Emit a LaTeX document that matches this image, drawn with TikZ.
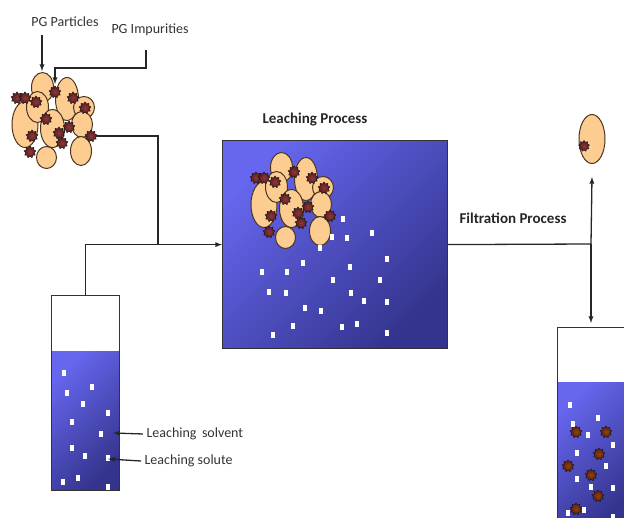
\documentclass[tikz,border=0pt]{standalone}
\usepackage{fontspec}
\setmainfont{Carlito}
\usepackage{tikz}
\usetikzlibrary{positioning,arrows,shapes.geometric}

\definecolor{pgfill}{HTML}{FDCC90}
\definecolor{pgedge}{HTML}{4A3520}
\definecolor{impfill}{HTML}{5A1A22}
\definecolor{impcore}{HTML}{8A3A34}
\definecolor{liqlight}{HTML}{6666EE}
\definecolor{liqdark}{HTML}{34348E}

\tikzset{
  pics/pgcluster/.style={code={
    \foreach \cx/\cy/\rx/\ry in {28.5/15.5/11/15, 53/27/11.5/21.5, 11/52.5/13/23,
        23.5/35/11/15.5, 38.5/56.5/12/19, 70/35.5/10.5/11, 68/52.5/10.5/13,
        67/79/10.5/14.5, 32.5/85.5/10/11}
      \draw[particle] (\cx,\cy) ellipse [x radius=\rx pt, y radius=\ry pt];
    \foreach \ix/\iy [count=\k] in {3/26, 11/26, 22/30, 41/20, 59/26, 71/36, 77/64,
        32/47, 45/61, 48/71, 55/55, 18/64, 16/80}
      \node[impurity] (-imp\k) at (\ix,\iy) {};
  }}
}

\begin{document}
\begin{tikzpicture}[x=1pt,y=-1pt,
  line/.style={draw=black!85, line width=1.3pt},
  flow/.style={line, -latex},
  particle/.style={draw=pgedge, fill=pgfill, line width=1pt},
  impurity/.style={star, star points=9, star point ratio=1.4, minimum size=12pt,
    inner sep=0pt, inner color=impcore, outer color=impfill, draw=black!90, line width=0.5pt},
  solute/.style={fill=white, inner sep=0pt, minimum width=4.5pt, minimum height=6pt},
  liquid/.style={top color=liqlight, bottom color=liqdark, shading angle=45},
  beaker/.style={draw=black!80, line width=1.2pt, anchor=north west, inner sep=0pt},
  label/.style={font=\fontsize{14}{16}\selectfont, text=black!80},
  title/.style={font=\bfseries\fontsize{15}{17}\selectfont, text=black!85}]
  \useasboundingbox (0,0) rectangle (624,518);
  \clip (0,0) rectangle (624,518);

  % raw PG with impurities
  \pic (feed) at (14,72) {pgcluster};
  \node[label] (ptxt) at (65,22) {PG Particles};
  \node[label] (itxt) at (150,30) {PG Impurities};
  \coordinate (ptip) at (42,71);
  \coordinate (pstart) at (42,35);
  \draw[flow] (pstart) -- (ptip);
  \coordinate (istart) at (146,50);
  \coordinate (ielbow) at (55,68);
  \coordinate (itip) at (55,84);
  \draw[flow] (istart) -- (istart |- ielbow) -- (ielbow) -- (itip);

  % solvent column
  \shade[liquid] (51,352) rectangle (119,490);
  \node[beaker, minimum width=68pt, minimum height=195pt] (solvent) at (51,295) {};
  \foreach \sx/\sy [count=\k] in {64/373, 67/393, 92/387, 83/404, 108/413, 72/422, 101/434,
      72/448, 85/456, 108/458, 63/482, 78/478, 108/487}
    \node[solute] (solv\k) at (\sx,\sy) {};
  \node[label, anchor=west] (solventtxt) at (143,434) {Leaching\, solvent};
  \node[label, anchor=west] (solutetxt) at (141,461) {Leaching solute};
  \coordinate (solventtip) at (113,433);
  \coordinate (solutetip) at (108,459);
  \draw[flow] (solventtxt.west) -- (solventtip);
  \draw[flow] (solutetxt.west) -- (solutetip);

  % leaching tank
  \node[beaker, liquid, minimum width=225pt, minimum height=208pt] (box) at (222,140) {};
  \node[title] (boxtitle) at (315,120) {Leaching Process};
  \pic (soak) at (253,152) {pgcluster};
  \foreach \sx/\sy [count=\k] in {343/219, 372/233, 332/237, 347/238, 320/248, 387/259,
      303/263, 262/272, 287/272, 350/267, 333/280, 380/280, 269/292, 286/293, 351/293,
      364/301, 387/302, 305/308, 321/311, 293/326, 342/327, 357/324, 273/335, 387/333}
    \node[solute] (sol\k) at (\sx,\sy) {};

  \coordinate (join) at (158,244);
  \draw[line] (feed-imp7) -- (feed-imp7 -| join) -- (join);
  \draw[flow] (solvent.north) |- (box.west);

  % filtration
  \coordinate (split) at (591,244);
  \node[title] (filttitle) at (513,218) {Filtration Process};
  \node[particle, ellipse, minimum width=26pt, minimum height=49pt, inner sep=0pt] (cake) at (592,139) {};
  \node[impurity, minimum size=11pt] (cakeimp) at (584,146) {};
  \shade[liquid] (557,383) rectangle (630,525);
  \node[beaker, minimum width=73pt, minimum height=198pt] (filtrate) at (557,327) {};
  \foreach \sx/\sy [count=\k] in {570/405, 598/418, 573/424, 588/435, 613/445, 577/453,
      606/466, 577/479, 591/487, 613/488, 584/510, 568/513, 613/517}
    \node[solute] (filt\k) at (\sx,\sy) {};
  \foreach \ix/\iy [count=\k] in {576/432, 606/432, 599/454, 568/466, 591/475, 598/496, 576/509}
    \node[impurity, inner color=orange!55!black, outer color=impfill] (lost\k) at (\ix,\iy) {};
  \draw[line] (box.east) -- (split);
  \draw[flow] (split) -- ([yshift=-13pt]cake.south);
  \draw[flow] (split) -- ([yshift=4pt]filtrate.north -| split);
\end{tikzpicture}
\end{document}
